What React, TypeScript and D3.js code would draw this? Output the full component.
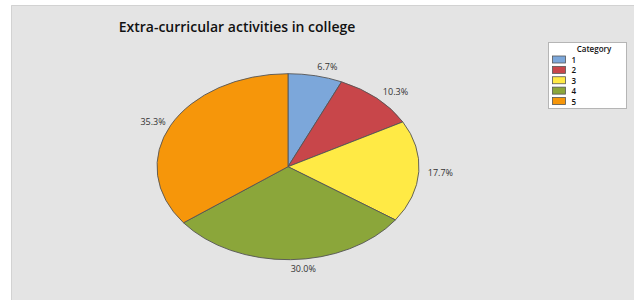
import React, { useEffect, useRef } from 'react';
import * as d3 from 'd3';

const categories = ['1', '2', '3', '4', '5'];
const percents = [6.7, 10.3, 17.7, 30.0, 35.3];
const colors = ['#7ca7da', '#c8464a', '#ffea45', '#8ba63a', '#f6960a'];
const title = 'Extra-curricular activities in college';

const App = () => {
  const svgRef = useRef(null);

  useEffect(() => {
    const width = 634;
    const height = 300;
    const cx = 288;
    const cy = 166.7;
    const rx = 131;
    const ry = 93;
    const font = '"Open Sans", "Noto Sans", sans-serif';

    const svg = d3.select(svgRef.current);
    svg.selectAll('*').remove(); // Clear previous content

    svg.append('rect').attr('width', width).attr('height', height).attr('fill', '#fff');

    // grey panel
    svg.append('rect')
      .attr('x', 11).attr('y', 5)
      .attr('width', width - 11).attr('height', height - 5)
      .attr('fill', '#e4e4e4');
    svg.append('path')
      .attr('d', `M11.5,${height}V5.5H${width}`)
      .attr('fill', 'none')
      .attr('stroke', '#d2d2d2');

    svg.append('text')
      .attr('x', 237).attr('y', 26)
      .attr('text-anchor', 'middle')
      .attr('dominant-baseline', 'central')
      .style('font-family', font)
      .style('font-weight', 600)
      .style('font-size', '14px')
      .attr('fill', '#111')
      .text(title);

    const data = categories.map((c, i) => ({ category: c, value: percents[i] }));
    const pie = d3.pie().sort(null).value((d) => d.value).startAngle(0).endAngle(2 * Math.PI);
    const arcs = pie(data);
    const arc = d3.arc().innerRadius(0).outerRadius(ry);
    const color = d3.scaleOrdinal().domain(categories).range(colors);

    const g = svg.append('g')
      .attr('transform', `translate(${cx},${cy}) scale(${rx / ry},1)`);

    g.selectAll('path')
      .data(arcs)
      .enter()
      .append('path')
      .attr('d', arc)
      .attr('fill', (d) => color(d.data.category))
      .attr('stroke', '#555')
      .attr('stroke-width', 0.9)
      .attr('vector-effect', 'non-scaling-stroke');

    // labels
    const off = 9;
    svg.selectAll('text.lbl')
      .data(arcs)
      .enter()
      .append('text')
      .attr('class', 'lbl')
      .each(function (d) {
        const a = (d.startAngle + d.endAngle) / 2;
        const s = Math.sin(a);
        const c = Math.cos(a);
        const x = cx + rx * s + off * s;
        const y = cy - ry * c - off * c;
        d3.select(this)
          .attr('x', s >= 0 ? x : x + 3)
          .attr('y', y)
          .attr('text-anchor', s >= 0 ? 'start' : 'end');
      })
      .attr('dominant-baseline', 'central')
      .style('font-family', font)
      .style('font-size', '9px')
      .attr('fill', '#333')
      .text((d) => `${d.data.value.toFixed(1)}%`);

    // legend
    const lg = svg.append('g');
    lg.append('rect')
      .attr('x', 548.5).attr('y', 42.5)
      .attr('width', 78).attr('height', 66)
      .attr('fill', '#fff')
      .attr('stroke', '#b5b5b5');
    lg.append('text')
      .attr('x', 594).attr('y', 48.5)
      .attr('text-anchor', 'middle')
      .attr('dominant-baseline', 'central')
      .style('font-family', font)
      .style('font-weight', 600)
      .style('font-size', '8px')
      .attr('fill', '#111')
      .text('Category');

    const rowY = d3.scalePoint().domain(categories).range([59.5, 101]);
    const rows = lg.selectAll('g.row')
      .data(categories)
      .enter()
      .append('g')
      .attr('class', 'row')
      .attr('transform', (d) => `translate(0,${rowY(d)})`);
    rows.append('rect')
      .attr('x', 552.5).attr('y', -3.5)
      .attr('width', 13).attr('height', 7)
      .attr('fill', (d) => color(d))
      .attr('stroke', '#555')
      .attr('stroke-width', 0.8);
    rows.append('text')
      .attr('x', 571.5).attr('y', 0)
      .attr('dominant-baseline', 'central')
      .style('font-family', font)
      .style('font-weight', 600)
      .style('font-size', '8px')
      .attr('fill', '#111')
      .text((d) => d);
  }, []);

  return (
    <div style={{ position: 'fixed', left: 0, top: 0 }}>
      <svg ref={svgRef} width={634} height={300} style={{ display: 'block' }}></svg>
    </div>
  );
};

export default App;
